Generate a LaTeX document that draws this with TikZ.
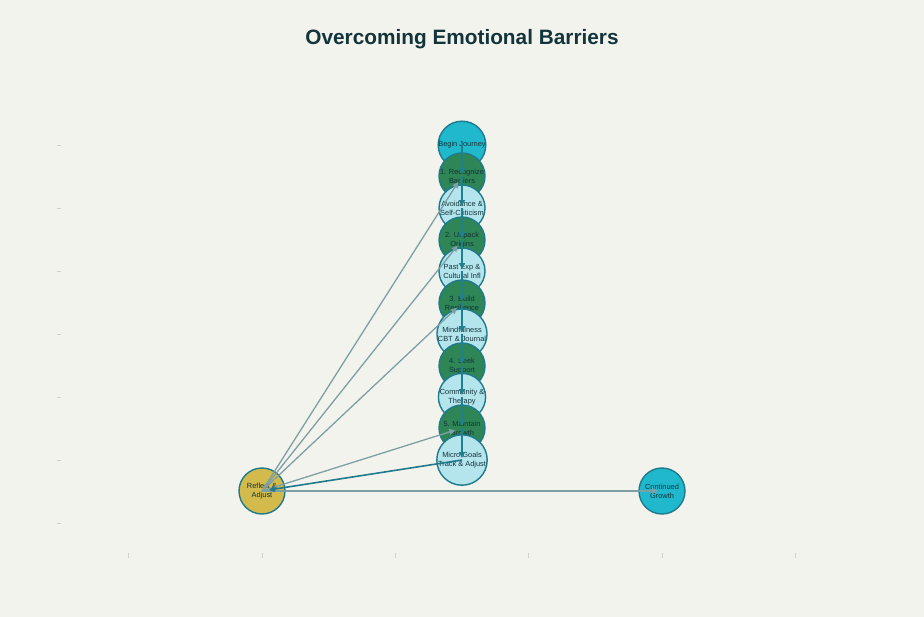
\documentclass[tikz,border=0pt]{standalone}
\usepackage{fontspec}
\setmainfont{Liberation Sans}
\usetikzlibrary{arrows.meta}
\definecolor{bg}{HTML}{F3F3EE}
\definecolor{cyanfill}{HTML}{1FB8CD}
\definecolor{greenfill}{HTML}{2E8555}
\definecolor{lightfill}{HTML}{B4E4EC}
\definecolor{yellowfill}{HTML}{D2BA4C}
\definecolor{nodeborder}{HTML}{1F7A8C}
\definecolor{flowcol}{HTML}{21808D}
\definecolor{graycol}{HTML}{7E9FA3}
\definecolor{txt}{HTML}{13343B}
\definecolor{tickcol}{HTML}{D0D0CC}
\tikzset{
  stage/.style={circle, draw=nodeborder, line width=1.4pt, minimum size=46pt, inner sep=0pt,
    align=center, text=txt, font=\fontsize{7.4}{9}\selectfont},
  cyannode/.style={stage, fill=cyanfill},
  greennode/.style={stage, fill=greenfill},
  lightnode/.style={stage, fill=lightfill},
  yellownode/.style={stage, fill=yellowfill},
  flowarrow/.style={draw=flowcol, line width=1.4pt, -{Triangle[length=6pt,width=6pt]}, shorten >=2pt},
  grayarrow/.style={draw=graycol, line width=1.3pt, -{Triangle[length=6pt,width=6pt]}, shorten >=7pt},
  darkarrow/.style={draw=nodeborder, line width=1.6pt, -{Triangle[length=6pt,width=6pt]}, shorten >=7pt},
  tickmark/.style={draw=tickcol, line width=0.6pt},
}
\begin{document}
\begin{tikzpicture}[x=1pt,y=-1pt]
\useasboundingbox (0,0) rectangle (924,616);
\fill[bg] (-2,-2) rectangle (926,618);
% title
\node[font=\bfseries\fontsize{20.8}{24}\selectfont, text=txt] (title) at (462,39) {Overcoming Emotional Barriers};
% faint axis ticks
\foreach \yy in {145,208,271,334,397,460,523} {\draw[tickmark] (57,\yy) -- (61,\yy);}
\foreach \xx in {128,262,395,528,662,795} {\draw[tickmark] (\xx,553) -- (\xx,558);}
% nodes
\node[cyannode] (begin) at (462,145) {Begin Journey};
\node[greennode] (recog) at (462,176) {1. Recognize\\Barriers};
\node[lightnode] (avoid) at (462,208) {Avoidance \&\\Self-Criticism};
\node[greennode] (unpack) at (462,240) {2. Unpack\\Origins};
\node[lightnode] (past) at (462,271) {Past Exp \&\\Cultural Infl};
\node[greennode] (build) at (462,303) {3. Build\\Resilience};
\node[lightnode] (mind) at (462,334) {Mindfulness\\CBT \& Journal};
\node[greennode] (seek) at (462,366) {4. Seek\\Support};
\node[lightnode] (comm) at (462,397) {Community \&\\Therapy};
\node[greennode] (maint) at (462,428) {5. Maintain\\Growth};
\node[lightnode] (micro) at (462,460) {Micro Goals\\Track \& Adjust};
\node[yellownode] (reflect) at (262,491) {Reflect \&\\Adjust};
\node[cyannode] (cont) at (662,491) {Continued\\Growth};
% vertical flow
\draw[flowarrow] (begin.center) -- (recog.center);
\draw[flowarrow] (recog.center) -- (avoid.center);
\draw[flowarrow] (avoid.center) -- (unpack.center);
\draw[flowarrow] (unpack.center) -- (past.center);
\draw[flowarrow] (past.center) -- (build.center);
\draw[flowarrow] (build.center) -- (mind.center);
\draw[flowarrow] (mind.center) -- (seek.center);
\draw[flowarrow] (seek.center) -- (comm.center);
\draw[flowarrow] (comm.center) -- (maint.center);
\draw[flowarrow] (maint.center) -- (micro.center);
% feedback
\draw[grayarrow] (reflect.center) -- (recog.center);
\draw[grayarrow] (reflect.center) -- (unpack.center);
\draw[grayarrow] (reflect.center) -- (build.center);
\draw[grayarrow] (reflect.center) -- (maint.center);
\draw[grayarrow, shorten >=4pt] (reflect.center) -- (cont.center);
\draw[darkarrow] (micro.center) -- (reflect.center);
\end{tikzpicture}
\end{document}
